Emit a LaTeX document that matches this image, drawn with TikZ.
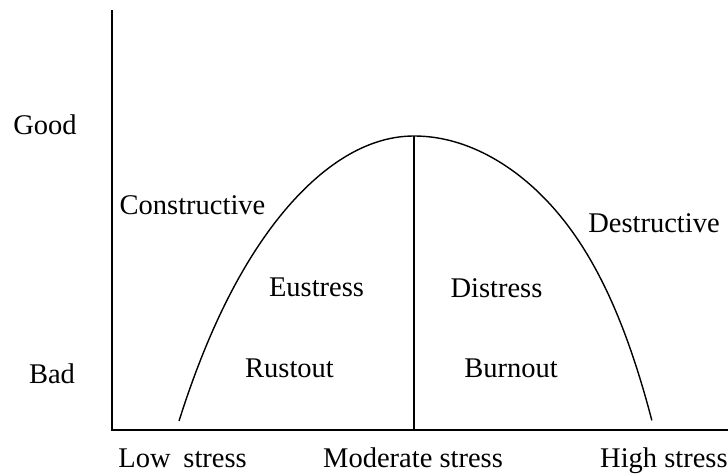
\documentclass[tikz,border=0pt]{standalone}
\usepackage{fontspec}
\setmainfont{Liberation Serif}
\begin{document}
\begin{tikzpicture}[x=1pt,y=-1pt,
  lbl/.style={font=\fontsize{28.5}{32}\selectfont, inner sep=0pt, anchor=base},
  axis/.style={line width=1.4pt, black},
  crv/.style={line width=1.4pt, black}]
\useasboundingbox (0,0) rectangle (728,475);
\coordinate (top) at (112,10);
\coordinate (O) at (112,430);
\coordinate (xend) at (728,430);
\coordinate (peak) at (414,136);
\coordinate (base) at (414,430);
\draw[axis] (top) -- (O) -- (xend);
\draw[crv] plot[domain=-1:0, samples=60, smooth] ({414+235*\x}, {136+285*(0.85*\x*\x+0.15*\x*\x*\x*\x*\x*\x)});
\draw[crv] plot[domain=0:1, samples=60, smooth] ({414+238*\x}, {136+285*(0.7*\x*\x+0.3*\x*\x*\x*\x*\x*\x)});
\draw[crv] (peak) -- (base);
\node[lbl] (good) at (45,134) {Good};
\node[lbl] (bad) at (52,383) {Bad};
\node[lbl] (cons) at (192.5,214) {Constructive};
\node[lbl] (eus) at (316.5,296) {Eustress};
\node[lbl] (dis) at (496.5,297) {Distress};
\node[lbl] (rust) at (289.5,377) {Rustout};
\node[lbl] (burn) at (511,377) {Burnout};
\node[lbl] (des) at (654,232) {Destructive};
\node[lbl, anchor=base east] (low) at (247,467) {Low\hspace{0.45em}stress};
\node[lbl, anchor=base west] (mod) at (323,467) {Moderate stress};
\node[lbl, anchor=base west] (high) at (600,467) {High stress};
\end{tikzpicture}
\end{document}
